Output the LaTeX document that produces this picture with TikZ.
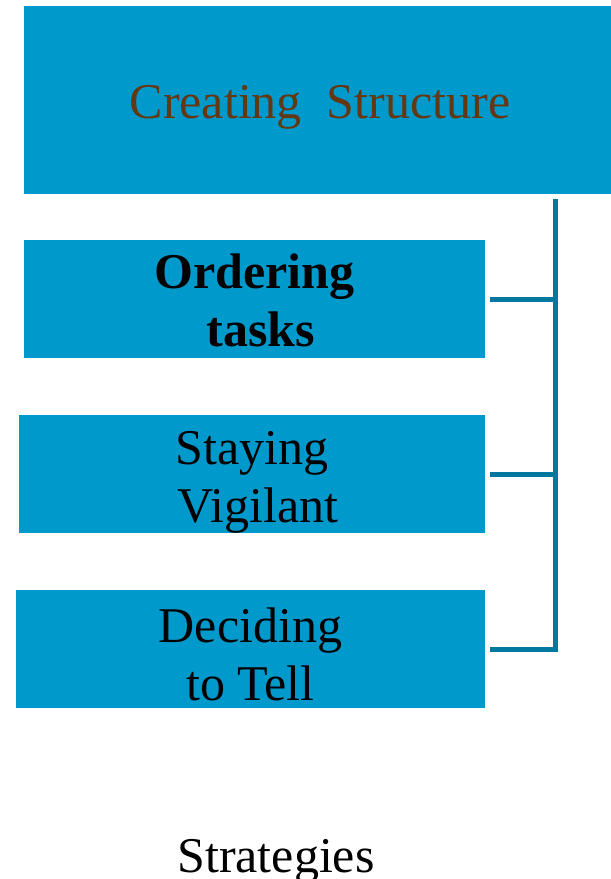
\documentclass[tikz,border=0pt]{standalone}
\usepackage{fontspec}
\setmainfont{Liberation Serif}
\usetikzlibrary{positioning}

\definecolor{boxblue}{RGB}{0,153,204}
\definecolor{linkblue}{RGB}{0,120,160}
\definecolor{titlebrown}{RGB}{99,56,19}

\begin{document}
\begin{tikzpicture}[x=1pt, y=-1pt]

    % ====== Sizes ======
    \def\boxH{118}   % height of the strategy boxes
    \def\gap{5}      % gap between box and connector

    \tikzset{
        stratbox/.style={fill=boxblue, draw=none, inner sep=0pt,
            minimum height=\boxH pt},
        boxtext/.style={inner sep=0pt, align=center,
            font=\fontsize{50}{58}\selectfont},
        link/.style={draw=linkblue, line width=5pt},
    }

    % ===== Frame =====
    \useasboundingbox (0,0) rectangle (611,879);

    % ===== Title box =====
    \node[stratbox, minimum width=592pt, minimum height=188pt] (title) at (320,100) {};
    \node[boxtext, text=titlebrown] (title text) at ([yshift=-7pt]title.center)
        {Creating\ \ Structure};

    % ===== Strategy boxes =====
    \node[stratbox, minimum width=461pt] (order) at (254.5,299) {};
    \node[boxtext, font=\bfseries\fontsize{50}{58}\selectfont] (order text)
        at ([yshift=-1pt]order.center) {Ordering\\\ tasks};

    \node[stratbox, minimum width=466pt] (vigil) at (252,474) {};
    \node[boxtext] (vigil text) at ([yshift=-8pt]vigil.center) {Staying\\\ Vigilant};

    \node[stratbox, minimum width=469pt] (decide) at (250.5,649) {};
    \node[boxtext] (decide text) at ([yshift=-5pt]decide.center) {Deciding\\to Tell};

    % ===== Caption =====
    \node[boxtext, anchor=base] (caption) at (276,872) {Strategies};

    % ===== Connectors =====
    \coordinate (spine) at (555.5,199);
    \draw[link] ([xshift=\gap pt]decide.east) -- (decide.east -| spine) -- (spine);
    \draw[link] ([xshift=\gap pt]order.east) -- (order.east -| spine);
    \draw[link] ([xshift=\gap pt]vigil.east) -- (vigil.east -| spine);

\end{tikzpicture}
\end{document}
